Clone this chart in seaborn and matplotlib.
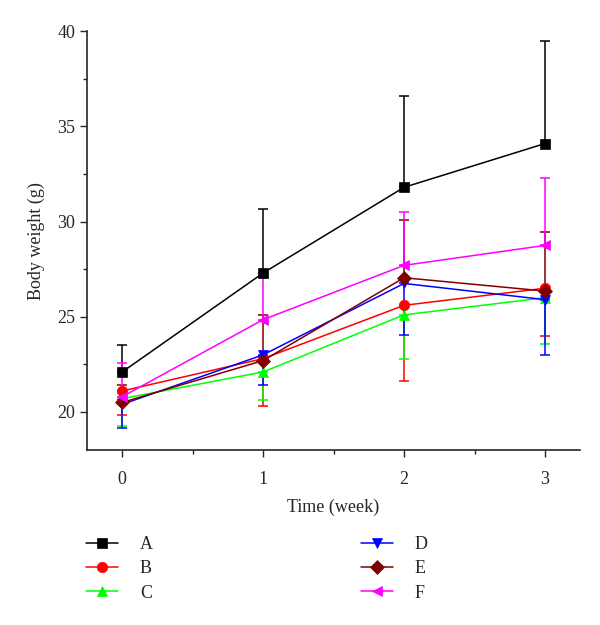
import pandas as pd
import numpy as np
from matplotlib import pyplot as plt
from matplotlib.ticker import MultipleLocator
import seaborn as sns

weeks = [0, 1, 2, 3]
groups = ['A', 'B', 'C', 'D', 'E', 'F']

# mean body weight per group (g)
A = [22.1, 27.3, 31.8, 34.1]
B = [21.1, 22.8, 25.6, 26.5]
C = [20.7, 22.1, 25.1, 26.0]
D = [20.4, 23.0, 26.75, 25.9]
E = [20.5, 22.7, 27.05, 26.35]
F = [20.8, 24.85, 27.7, 28.75]

# one-sided error bars as drawn in the figure
A_up = [1.4, 3.35, 4.8, 5.4]
B_down = [1.25, 2.5, 4.0, 2.5]
C_down = [1.45, 1.47, 2.3, 2.45]
D_down = [1.25, 1.6, 2.7, 2.9]
E_up = [0.9, 2.4, 3.05, 3.1]
F_up = [1.75, 2.4, 2.8, 3.55]

means = {'A': A, 'B': B, 'C': C, 'D': D, 'E': E, 'F': F}
errs = {'A': (None, A_up), 'B': (B_down, None), 'C': (C_down, None),
        'D': (D_down, None), 'E': (None, E_up), 'F': (None, F_up)}

colors = {'A': 'black', 'B': '#ff0000', 'C': '#00ff00',
          'D': '#0000ff', 'E': '#800000', 'F': '#ff00ff'}
markers = {'A': 's', 'B': 'o', 'C': '^', 'D': 'v', 'E': 'D', 'F': '<'}

df = pd.DataFrame([(w, g, means[g][i]) for g in groups for i, w in enumerate(weeks)],
                  columns=['week', 'group', 'weight'])

sns.set_style('ticks')
plt.rcParams['font.family'] = ['Liberation Serif', 'DejaVu Serif']
plt.rcParams['font.size'] = 12

fig = plt.figure(figsize=(6, 6.25), dpi=100)
ax = fig.add_axes([0.145, 0.28, 0.822, 0.67])

for g in groups:
    lo, hi = errs[g]
    z = np.zeros(len(weeks))
    yerr = [lo if lo is not None else z, hi if hi is not None else z]
    ax.errorbar(weeks, means[g], yerr=yerr, fmt='none', ecolor=colors[g],
                elinewidth=1.1, capsize=3.5, capthick=1.1)

n_before = len(ax.lines)
sns.lineplot(data=df, x='week', y='weight', hue='group', style='group',
             palette=colors, markers=markers, dashes=False, markersize=7.5,
             linewidth=1.1, ax=ax)

handles, labels = ax.get_legend_handles_labels()
ax.get_legend().remove()

# solid markers, no white edge (only the seaborn lines, not the caps)
for ln in list(ax.lines)[n_before:] + list(handles):
    ln.set_markeredgecolor(ln.get_color())
    ln.set_markeredgewidth(0.5)

ax.set_xlim(-0.25, 3.25)
ax.set_ylim(18, 40)
ax.set_xticks(weeks)
ax.set_yticks([20, 25, 30, 35, 40])
ax.xaxis.set_minor_locator(MultipleLocator(0.5))
ax.yaxis.set_minor_locator(MultipleLocator(2.5))
ax.tick_params(which='major', direction='out', length=5, width=1, labelsize=13)
ax.tick_params(axis='x', which='major', pad=10)
ax.tick_params(which='minor', direction='out', length=3, width=1)
sns.despine(ax=ax)
for s in ['left', 'bottom']:
    ax.spines[s].set_linewidth(1.2)
ax.set_xlabel('Time (week)', fontsize=13, labelpad=8)
ax.set_ylabel('Body weight (g)', fontsize=13, labelpad=9)

fig.legend(handles, labels, ncol=2, frameon=False, loc='upper left',
           bbox_to_anchor=(0.143, 0.142), borderpad=0, borderaxespad=0,
           handlelength=1.8, handletextpad=1.2, columnspacing=11.5,
           labelspacing=0.4, fontsize=13)

plt.savefig('out.png', dpi=100)
